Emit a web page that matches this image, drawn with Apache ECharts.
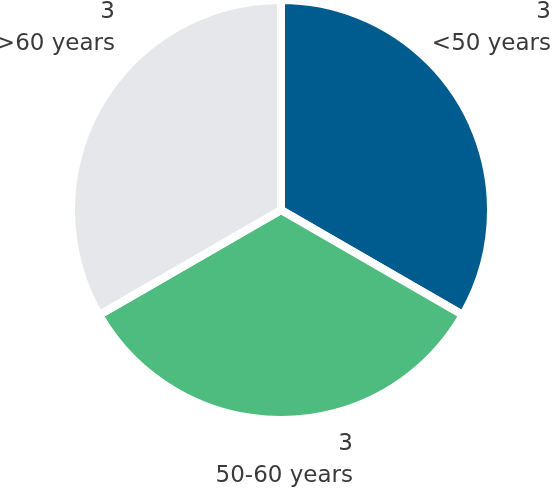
<!DOCTYPE html>
<html>
<head>
<meta charset="utf-8">
<script src="https://cdn.jsdelivr.net/npm/echarts@6/dist/echarts.min.js"></script>
<style>
  html, body { margin: 0; padding: 0; background: #fff; }
  #echart { width: 552px; height: 492px; }
</style>
</head>
<body>
<div id="echart"></div>
<script>
var categories = ['<50 years', '50-60 years', '>60 years'];
var values = [3, 3, 3];
var colors = ['#005b8f', '#4dbc7e', '#e6e7ea'];

var myChart = echarts.init(document.getElementById('echart'));

// where each label block sits (right edge, top)
var labelAnchors = [[551, -4], [353, 428], [115, -4]];

var option = {
    animation: false,
    series: [
        {
            name: 'Age',
            type: 'pie',
            center: [281, 210],
            radius: [0, 210],
            startAngle: 90,
            clockwise: true,
            data: categories.map(function (c, i) {
                return { name: c, value: values[i], itemStyle: { color: colors[i] } };
            }),
            itemStyle: {
                borderColor: '#fff',
                borderWidth: 8
            },
            label: {
                show: true,
                formatter: '{c}\n{b}',
                color: '#3a3a3a',
                fontFamily: 'DejaVu Sans',
                fontSize: 23,
                lineHeight: 32,
                align: 'right',
                overflow: 'none',
                width: 300
            },
            labelLine: { show: false },
            labelLayout: function (params) {
                var a = labelAnchors[params.dataIndex];
                return { x: a[0], y: a[1], align: 'right', verticalAlign: 'top', width: 300 };
            }
        }
    ]
};

myChart.setOption(option);
</script>
</body>
</html>
